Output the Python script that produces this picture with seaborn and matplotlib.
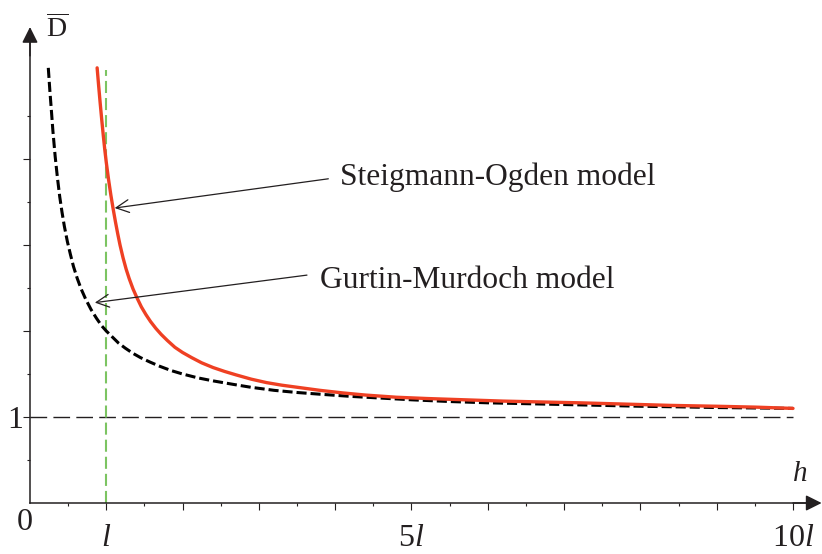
import numpy as np
import pandas as pd
import matplotlib.pyplot as plt
import seaborn as sns

sns.set_theme(style='white')
plt.rcParams['font.family'] = ['Liberation Serif', 'DejaVu Serif']
plt.rcParams['mathtext.fontset'] = 'custom'
plt.rcParams['mathtext.rm'] = 'Liberation Serif'
plt.rcParams['mathtext.it'] = 'Liberation Serif:italic'

INK = '#231f20'

# Gurtin-Murdoch (dashed black)
gm_h = [0.24, 0.26, 0.28, 0.30, 0.33, 0.36, 0.39, 0.42, 0.45, 0.49, 0.53, 0.57, 0.62,
        0.67, 0.73, 0.80, 0.87, 0.94, 1.00, 1.08, 1.16, 1.25, 1.35, 1.45, 1.57, 1.70,
        1.85, 2.00, 2.20, 2.40, 2.66, 2.90, 3.20, 3.50, 3.80, 4.20, 4.60, 5.00, 5.50,
        6.00, 6.50, 7.00, 7.50, 8.00, 8.50, 9.00, 9.50, 10.0]
gm_d = [5.06, 4.80, 4.57, 4.33, 4.03, 3.78, 3.56, 3.38, 3.22, 3.04, 2.89, 2.75, 2.61,
        2.49, 2.37, 2.25, 2.15, 2.06, 2.00, 1.93, 1.86, 1.80, 1.74, 1.69, 1.64, 1.59,
        1.54, 1.50, 1.455, 1.42, 1.38, 1.345, 1.31, 1.285, 1.265, 1.24, 1.22, 1.20, 1.18,
        1.165, 1.155, 1.145, 1.135, 1.125, 1.118, 1.11, 1.105, 1.10]

# Steigmann-Ogden (solid red)
so_h = [0.88, 0.90, 0.92, 0.94, 0.96, 0.98, 1.00, 1.03, 1.06, 1.09, 1.12, 1.15, 1.18,
        1.22, 1.26, 1.30, 1.35, 1.40, 1.46, 1.52, 1.58, 1.65, 1.72, 1.80, 1.90, 2.00,
        2.12, 2.25, 2.40, 2.55, 2.70, 2.90, 3.10, 3.30, 3.55, 3.80, 4.10, 4.40, 4.80,
        5.20, 5.70, 6.20, 6.70, 7.20, 7.80, 8.40, 9.00, 9.50, 10.0]
so_d = [5.06, 4.85, 4.65, 4.46, 4.28, 4.11, 3.96, 3.76, 3.58, 3.42, 3.27, 3.13, 3.00,
        2.85, 2.72, 2.61, 2.49, 2.39, 2.28, 2.19, 2.11, 2.03, 1.96, 1.89, 1.81, 1.75,
        1.69, 1.63, 1.575, 1.53, 1.49, 1.44, 1.40, 1.37, 1.34, 1.31, 1.28, 1.255, 1.23,
        1.215, 1.20, 1.185, 1.175, 1.165, 1.15, 1.135, 1.125, 1.115, 1.10]

asymptote = 1.0
l_mark = 1.0
x_major = list(range(1, 11))
x_labels = ['$l$', '', '', '', '$5l$', '', '', '', '', '$10l$']
x_minor = [i + 0.5 for i in range(10)]
y_major = [1, 2, 3, 4]
y_labels = ['1', '', '', '']
y_minor = [i + 0.5 for i in range(5)]

fig = plt.figure(figsize=(8.22, 5.54), dpi=100)
ax = fig.add_axes([0, 0, 1, 1])
ax.set_xlim(-0.393, 10.38)
ax.set_ylim(-0.593, 5.849)

# reference lines
ax.hlines(asymptote, 0, 10, color=INK, lw=1.0, linestyles=[(0, (12, 4.5))], zorder=1)
ax.vlines(l_mark, 0, 5.03, color='#7cc462', lw=1.5, linestyles=[(0, (5.8, 2.4))], zorder=1)

df_gm = pd.DataFrame({'h': gm_h, 'D': gm_d})
df_so = pd.DataFrame({'h': so_h, 'D': so_d})
sns.lineplot(data=df_gm, x='h', y='D', ax=ax, color='black', lw=2.2,
             linestyle=(0, (3.3, 1.3)), zorder=2)
sns.lineplot(data=df_so, x='h', y='D', ax=ax, color='#ef4023', lw=2.4, zorder=3)

# axes through the origin with arrows
for s in ['top', 'right']:
    ax.spines[s].set_visible(False)
ax.spines['left'].set_position(('data', 0))
ax.spines['bottom'].set_position(('data', 0))
ax.spines['left'].set_bounds(0, 5.4)
ax.spines['bottom'].set_bounds(0, 10.25)
for s in ['left', 'bottom']:
    ax.spines[s].set_color(INK)
    ax.spines[s].set_linewidth(1.1)
ax.annotate('', xy=(0, 5.535), xytext=(0, 5.2), annotation_clip=False,
            arrowprops=dict(arrowstyle='-|>', color=INK, lw=1.1, mutation_scale=24,
                            shrinkA=0, shrinkB=0))
ax.annotate('', xy=(10.375, 0), xytext=(10.0, 0), annotation_clip=False,
            arrowprops=dict(arrowstyle='-|>', color=INK, lw=1.1, mutation_scale=24,
                            shrinkA=0, shrinkB=0))

ax.set_xticks(x_major, x_labels)
ax.set_xticks(x_minor, minor=True)
ax.set_yticks(y_major, y_labels)
ax.set_yticks(y_minor, minor=True)
ax.tick_params(which='major', direction='out', length=4.8, width=0.8, color=INK,
               labelcolor=INK, labelsize=23, bottom=True, left=True)
ax.tick_params(which='minor', direction='out', length=2.4, width=0.8, color=INK,
               bottom=True, left=True)
ax.tick_params(axis='x', pad=10)
ax.tick_params(axis='y', pad=0.5)
ax.set_xlabel('')
ax.set_ylabel('')

ax.text(-0.07, -0.23, '0', fontsize=23, color=INK, ha='center', va='center')
ax.text(0.354, 5.42, r'$\overline{\mathrm{D}}$', fontsize=20, color=INK,
        ha='center', va='baseline')
ax.text(10.09, 0.337, '$h$', fontsize=21, color=INK, ha='center', va='center')

# model labels with arrows
ax.text(4.06, 3.70, 'Steigmann-Ogden model', fontsize=22.7, color=INK, va='baseline')
ax.annotate('', xy=(1.11, 3.43), xytext=(3.91, 3.77),
            arrowprops=dict(arrowstyle='->', color=INK, lw=0.9, mutation_scale=23,
                            shrinkA=0, shrinkB=0))
ax.text(3.80, 2.50, 'Gurtin-Murdoch model', fontsize=22.7, color=INK, va='baseline')
ax.annotate('', xy=(0.85, 2.33), xytext=(3.63, 2.65),
            arrowprops=dict(arrowstyle='->', color=INK, lw=0.9, mutation_scale=23,
                            shrinkA=0, shrinkB=0))

fig.savefig('out.png', dpi=100)
